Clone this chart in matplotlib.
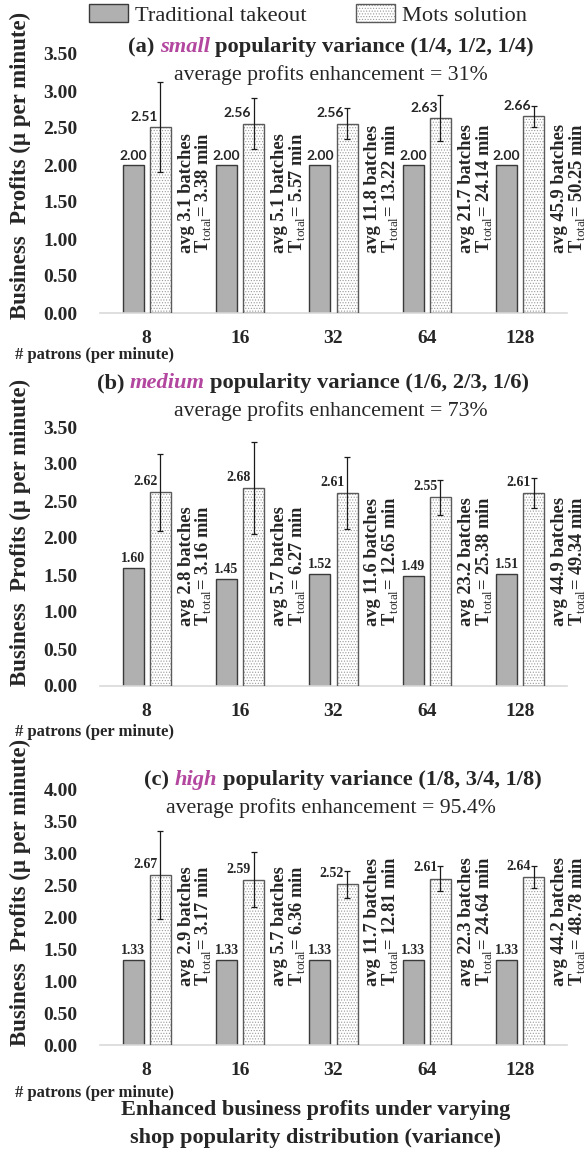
import numpy as np
import matplotlib
matplotlib.use('Agg')
import matplotlib.pyplot as plt
from matplotlib.patches import Patch
from matplotlib.legend_handler import HandlerTuple
import matplotlib.transforms as mtransforms

plt.rcParams['font.family'] = ['Liberation Serif', 'DejaVu Serif']
plt.rcParams['mathtext.fontset'] = 'custom'
plt.rcParams['mathtext.rm'] = 'Liberation Serif'
plt.rcParams['hatch.linewidth'] = 0.5

# data
patrons = ['8', '16', '32', '64', '128']

trad_a = [2.00, 2.00, 2.00, 2.00, 2.00]
mots_a = [2.51, 2.56, 2.56, 2.63, 2.66]
err_a = [0.61, 0.34, 0.21, 0.31, 0.14]
batches_a = [3.1, 5.1, 11.8, 21.7, 45.9]
ttotal_a = [3.38, 5.57, 13.22, 24.14, 50.25]

trad_b = [1.60, 1.45, 1.52, 1.49, 1.51]
mots_b = [2.62, 2.68, 2.61, 2.55, 2.61]
err_b = [0.52, 0.62, 0.49, 0.24, 0.20]
batches_b = [2.8, 5.7, 11.6, 23.2, 44.9]
ttotal_b = [3.16, 6.27, 12.65, 25.38, 49.34]

trad_c = [1.33, 1.33, 1.33, 1.33, 1.33]
mots_c = [2.67, 2.59, 2.52, 2.61, 2.64]
err_c = [0.69, 0.43, 0.21, 0.20, 0.17]
batches_c = [2.9, 5.7, 11.7, 22.3, 44.2]
ttotal_c = [3.17, 6.36, 12.81, 24.64, 48.78]

titles = [('(a)', 'small', 'popularity variance (1/4, 1/2, 1/4)'),
          ('(b)', 'medium', 'popularity variance (1/6, 2/3, 1/6)'),
          ('(c)', 'high', 'popularity variance (1/8, 3/4, 1/8)')]
enhancements = ['31%', '73%', '95.4%']

W, H = 586, 1171
GRAY = '#b0b0b0'
MAGENTA = '#b3479f'
TXT = '#262626'

fig = plt.figure(figsize=(W / 100, H / 100), dpi=100)


def px_axes(left, top, right, bottom):
    return fig.add_axes([left / W, 1 - bottom / H, (right - left) / W, (bottom - top) / H])


def draw_panel(ax, trad, mots, err, batches, ttotal, ymax, label_font):
    x = np.arange(len(patrons))
    bw = 0.225
    off = 0.145
    ax.bar(x - off, trad, bw, color=GRAY, edgecolor='#3a3a3a', linewidth=1.0, zorder=2)
    ax.bar(x + off, mots, bw, color='white', edgecolor='#9a9a9a', linewidth=0,
           hatch='......', zorder=2)
    ax.bar(x + off, mots, bw, fill=False, edgecolor='#5a5a5a', linewidth=1.0, zorder=3)
    ax.errorbar(x + off, mots, yerr=err, fmt='none', ecolor='#1a1a1a',
                elinewidth=0.9, capsize=2.5, capthick=0.9, zorder=4)

    trans = mtransforms.blended_transform_factory(ax.transData, ax.transAxes)
    for i in range(len(patrons)):
        ax.annotate(f'{trad[i]:.2f}', (x[i] - off, trad[i]), xytext=(0, 2),
                    textcoords='offset points', ha='center', va='bottom',
                    fontsize=10, fontweight='bold', family=label_font, color=TXT)
        ax.annotate(f'{mots[i]:.2f}', (x[i] + off - 0.03, mots[i]), xytext=(0, 3),
                    textcoords='offset points', ha='right', va='bottom',
                    fontsize=10, fontweight='bold', family=label_font, color=TXT)
        ax.text(x[i] + 0.33, 0.232,
                f'avg {batches[i]} batches\nT$_{{\\mathrm{{total}}}}$= {ttotal[i]:.2f} min',
                transform=trans, rotation=90, ha='left', va='bottom',
                fontsize=13.3, fontweight='bold', color=TXT, linespacing=0.92)

    ax.set_xlim(-0.5, len(patrons) - 0.5)
    ax.set_ylim(0, ymax)
    ax.set_yticks(np.arange(0, ymax + 0.01, 0.5))
    ax.set_yticklabels([f'{v:.2f}' for v in np.arange(0, ymax + 0.01, 0.5)])
    ax.set_xticks(x)
    ax.set_xticklabels(patrons)
    ax.tick_params(axis='both', length=0, labelsize=14, colors=TXT)
    ax.tick_params(axis='y', pad=16)
    ax.tick_params(axis='x', pad=12)
    for lab in ax.get_xticklabels() + ax.get_yticklabels():
        lab.set_fontweight('bold')
    for s in ['top', 'right', 'left']:
        ax.spines[s].set_visible(False)
    ax.spines['bottom'].set_color('#d9d9d9')
    ax.spines['bottom'].set_linewidth(1.2)


ax_a = px_axes(100, 54, 567, 313)
ax_b = px_axes(100, 427, 567, 686)
ax_c = px_axes(100, 790, 567, 1045)

draw_panel(ax_a, trad_a, mots_a, err_a, batches_a, ttotal_a, 3.5, 'Lato')
draw_panel(ax_b, trad_b, mots_b, err_b, batches_b, ttotal_b, 3.5, 'Liberation Serif')
draw_panel(ax_c, trad_c, mots_c, err_c, batches_c, ttotal_c, 4.0, 'Liberation Serif')

# titles with mixed styling, centred at a pixel position
renderer = fig.canvas.get_renderer()


def mixed_title(xc, yc, parts, size):
    texts = []
    for s, style, color in parts:
        t = fig.text(0, 0, s, fontsize=size, fontweight='bold', style=style,
                     color=color, va='center', ha='left')
        texts.append(t)
    gap = size * 100 / 72 * 0.25
    widths = [t.get_window_extent(renderer).width for t in texts]
    total = sum(widths) + gap * (len(texts) - 1)
    xpos = xc - total / 2
    for t, w in zip(texts, widths):
        t.set_position((xpos / W, 1 - yc / H))
        xpos += w + gap


title_y = [47, 383, 780]
sub_y = [75, 411, 808]
title_x = [331, 313, 343]
for k in range(3):
    a, word, rest = titles[k]
    mixed_title(title_x[k], title_y[k],
                [(a, 'normal', TXT), (word, 'italic', MAGENTA), (rest, 'normal', TXT)], 16.2)
    fig.text(331 / W, 1 - sub_y[k] / H, f'average profits enhancement = {enhancements[k]}',
             fontsize=15.7, ha='center', va='center', color=TXT)

# y labels and x label notes
ylab_y = [165, 532, 892]
for yc in ylab_y:
    fig.text(20 / W, 1 - yc / H, 'Business  Profits (μ per minute)', rotation=90,
             fontsize=16.5, fontweight='bold', ha='center', va='center', color=TXT)
for yc in [355, 732, 1093]:
    fig.text(15 / W, 1 - yc / H, '# patrons (per minute)', fontsize=12,
             fontweight='bold', ha='left', va='center', color=TXT)

# legend
h_trad = Patch(facecolor=GRAY, edgecolor='#3a3a3a', linewidth=1.0)
h_mots = (Patch(facecolor='white', edgecolor='#9a9a9a', linewidth=0, hatch='......'),
          Patch(fill=False, edgecolor='#5a5a5a', linewidth=1.0))
fig.legend([h_trad, h_mots], ['Traditional takeout', 'Mots solution'],
           handler_map={tuple: HandlerTuple(ndivide=1, pad=0)},
           loc='center', bbox_to_anchor=(308 / W, 1 - 15 / H), ncol=2,
           frameon=False, fontsize=16.2, handlelength=1.75, handleheight=0.8,
           handletextpad=0.3, columnspacing=2.2, labelcolor=TXT)

# caption
fig.text(316 / W, 1 - 1124 / H,
         'Enhanced business profits under varying\nshop popularity distribution (variance)',
         fontsize=16, fontweight='bold', ha='center', va='center', color=TXT,
         linespacing=1.55)

fig.savefig('out.png', dpi=100)
